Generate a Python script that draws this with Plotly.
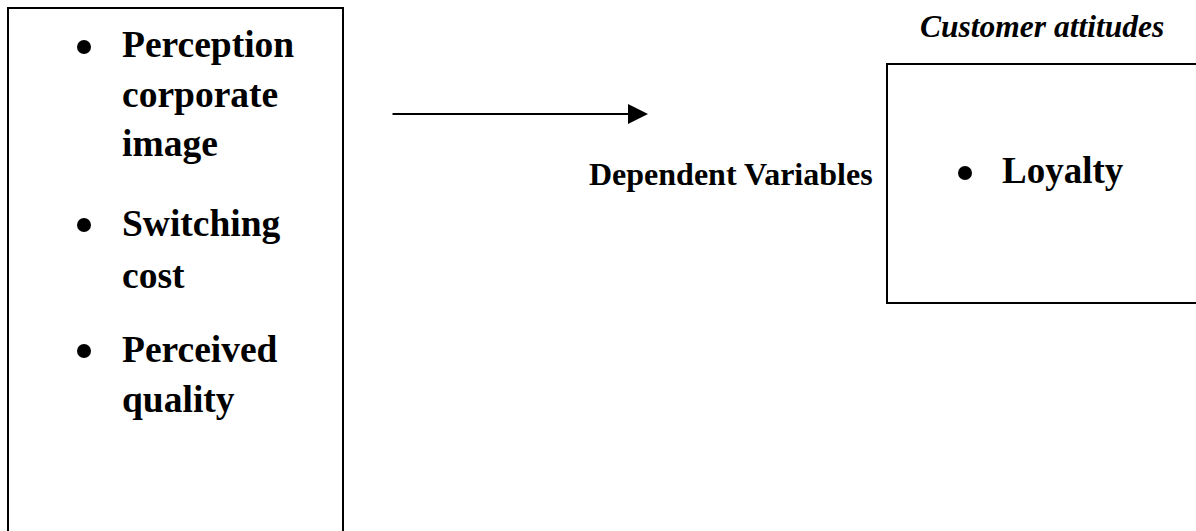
import plotly.graph_objects as go

# Diagram content
left_lines = ["Perception", "corporate", "image", "Switching", "cost", "Perceived", "quality"]
left_baselines = [57, 107, 156, 236, 288, 362, 412]
left_bullet_y = [47, 225, 351]
right_item = "Loyalty"
middle_label = "Dependent Variables"
top_label = "Customer attitudes"

W, H = 1196, 531
FONT = "Liberation Serif, Times New Roman, serif"

fig = go.Figure()

# bullets
fig.add_trace(go.Scatter(
    x=[84] * len(left_bullet_y) + [965], y=left_bullet_y + [173],
    mode="markers", marker=dict(symbol="circle", size=14, color="black"),
    hoverinfo="skip", showlegend=False))

def add_text(txt, x, baseline, size, bold=True, italic=False):
    t = txt
    if bold:
        t = "<b>" + t + "</b>"
    if italic:
        t = "<i>" + t + "</i>"
    fig.add_annotation(x=x, y=baseline - 0.3375 * size, xref="x", yref="y",
                       text=t, showarrow=False, xanchor="left", yanchor="middle",
                       font=dict(family=FONT, size=size, color="black"),
                       borderpad=0)

for txt, b in zip(left_lines, left_baselines):
    add_text(txt, 121, b, 37.5)

add_text(middle_label, 588, 185, 32)
add_text(top_label, 919, 37, 31.5, italic=True)
add_text(right_item, 1001, 183, 37)

# boxes
fig.add_shape(type="rect", x0=8, x1=343, y0=8, y1=545, xref="x", yref="y",
              line=dict(color="black", width=2), fillcolor="rgba(0,0,0,0)")
fig.add_shape(type="rect", x0=887, x1=1205, y0=64, y1=303, xref="x", yref="y",
              line=dict(color="black", width=2), fillcolor="rgba(0,0,0,0)")

# arrow
fig.add_annotation(x=648, y=114, ax=391, ay=114, xref="x", yref="y", axref="x", ayref="y",
                   text="", showarrow=True, arrowhead=2, arrowsize=2.0, arrowwidth=2,
                   arrowcolor="black")

fig.update_layout(
    width=W, height=H, margin=dict(l=0, r=0, t=0, b=0),
    paper_bgcolor="white", plot_bgcolor="white",
    xaxis=dict(range=[0, W], visible=False, fixedrange=True),
    yaxis=dict(range=[H, 0], visible=False, fixedrange=True),
    showlegend=False,
)
fig.write_html("out.html", config={"displayModeBar": False},
               post_script="document.body.style.margin='0px';document.body.style.overflow='hidden';")
